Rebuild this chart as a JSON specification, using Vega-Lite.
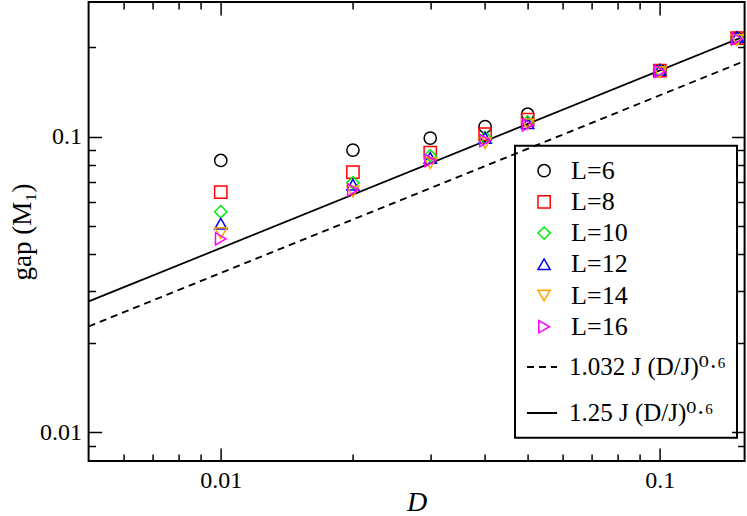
{
  "$schema": "https://vega.github.io/schema/vega-lite/v6.json",
  "width": 656,
  "height": 459,
  "autosize": {"type": "none"},
  "padding": {"left": 88.6, "top": 2, "right": 2.4, "bottom": 55},
  "background": "white",
  "config": {
    "font": "Liberation Serif",
    "view": {"stroke": "black", "strokeWidth": 2},
    "axis": {
      "domain": false,
      "grid": false,
      "labelFont": "Liberation Serif",
      "labelFontSize": 24,
      "labelColor": "black",
      "tickColor": "black",
      "tickWidth": 1.5,
      "titleFont": "Liberation Serif",
      "titleColor": "black",
      "titleFontWeight": "normal"
    },
    "legend": {
      "labelFont": "'Liberation Serif', 'DejaVu Serif', serif",
      "labelColor": "black",
      "labelFontSize": 26,
      "labelLimit": 400,
      "strokeWidth": 2
    }
  },
  "datasets": {
    "points": [
      {"D": 0.01, "gap": 0.083, "L": "L=6"},
      {"D": 0.02, "gap": 0.090, "L": "L=6"},
      {"D": 0.03, "gap": 0.0988, "L": "L=6"},
      {"D": 0.04, "gap": 0.108, "L": "L=6"},
      {"D": 0.05, "gap": 0.119, "L": "L=6"},
      {"D": 0.1, "gap": 0.167, "L": "L=6"},
      {"D": 0.15, "gap": 0.215, "L": "L=6"},
      {"D": 0.01, "gap": 0.0649, "L": "L=8"},
      {"D": 0.02, "gap": 0.0758, "L": "L=8"},
      {"D": 0.03, "gap": 0.0883, "L": "L=8"},
      {"D": 0.04, "gap": 0.1019, "L": "L=8"},
      {"D": 0.05, "gap": 0.114, "L": "L=8"},
      {"D": 0.1, "gap": 0.167, "L": "L=8"},
      {"D": 0.15, "gap": 0.215, "L": "L=8"},
      {"D": 0.01, "gap": 0.0557, "L": "L=10"},
      {"D": 0.02, "gap": 0.0698, "L": "L=10"},
      {"D": 0.03, "gap": 0.0861, "L": "L=10"},
      {"D": 0.04, "gap": 0.0992, "L": "L=10"},
      {"D": 0.05, "gap": 0.112, "L": "L=10"},
      {"D": 0.1, "gap": 0.167, "L": "L=10"},
      {"D": 0.15, "gap": 0.214, "L": "L=10"},
      {"D": 0.01, "gap": 0.0507, "L": "L=12"},
      {"D": 0.02, "gap": 0.0687, "L": "L=12"},
      {"D": 0.03, "gap": 0.0847, "L": "L=12"},
      {"D": 0.04, "gap": 0.099, "L": "L=12"},
      {"D": 0.05, "gap": 0.111, "L": "L=12"},
      {"D": 0.1, "gap": 0.168, "L": "L=12"},
      {"D": 0.15, "gap": 0.217, "L": "L=12"},
      {"D": 0.01, "gap": 0.0472, "L": "L=14"},
      {"D": 0.02, "gap": 0.0652, "L": "L=14"},
      {"D": 0.03, "gap": 0.0813, "L": "L=14"},
      {"D": 0.04, "gap": 0.095, "L": "L=14"},
      {"D": 0.05, "gap": 0.110, "L": "L=14"},
      {"D": 0.1, "gap": 0.165, "L": "L=14"},
      {"D": 0.15, "gap": 0.212, "L": "L=14"},
      {"D": 0.01, "gap": 0.0451, "L": "L=16"},
      {"D": 0.02, "gap": 0.066, "L": "L=16"},
      {"D": 0.03, "gap": 0.083, "L": "L=16"},
      {"D": 0.04, "gap": 0.097, "L": "L=16"},
      {"D": 0.05, "gap": 0.1095, "L": "L=16"},
      {"D": 0.1, "gap": 0.166, "L": "L=16"},
      {"D": 0.15, "gap": 0.214, "L": "L=16"}
    ],
    "fits": [
      {"D": 0.005, "gap": 0.0228, "fit": "1.032 J (D/J)⁰·⁶"},
      {"D": 0.156, "gap": 0.1800, "fit": "1.032 J (D/J)⁰·⁶"},
      {"D": 0.005, "gap": 0.0277, "fit": "1.25 J (D/J)⁰·⁶"},
      {"D": 0.156, "gap": 0.2184, "fit": "1.25 J (D/J)⁰·⁶"}
    ]
  },
  "layer": [
    {
      "data": {"name": "fits"},
      "mark": {"type": "line", "color": "black", "strokeWidth": 1.8},
      "encoding": {
        "x": {
          "field": "D", "type": "quantitative",
          "scale": {"type": "log", "domain": [0.005, 0.156], "nice": false},
          "axis": {
            "orient": "bottom",
            "title": "D",
            "titleFontStyle": "italic",
            "titleFontSize": 28,
            "titleX": 328,
            "titleY": 49,
            "titleBaseline": "alphabetic",
            "values": [0.006, 0.007, 0.008, 0.009, 0.01, 0.02, 0.03, 0.04, 0.05, 0.06, 0.07, 0.08, 0.09, 0.1],
            "labelExpr": "datum.value === 0.01 ? '0.01' : datum.value === 0.1 ? '0.1' : ''",
            "tickSize": {"condition": {"test": "datum.value === 0.01 || datum.value === 0.1", "value": -13}, "value": -7},
            "labelPadding": 20,
            "labelFlush": false,
            "labelOverlap": false
          }
        },
        "y": {
          "field": "gap", "type": "quantitative",
          "scale": {"type": "log", "domain": [0.008, 0.285], "nice": false},
          "axis": {
            "orient": "left",
            "title": "gap (M₁)",
            "titleFontSize": 27,
            "titleX": -66.6,
            "titleY": 229.5,
            "titleBaseline": "middle",
            "titleAngle": -90,
            "values": [0.009, 0.01, 0.02, 0.03, 0.04, 0.05, 0.06, 0.07, 0.08, 0.09, 0.1, 0.2],
            "labelExpr": "datum.value === 0.01 ? '0.01' : datum.value === 0.1 ? '0.1' : ''",
            "tickSize": {"condition": {"test": "datum.value === 0.01 || datum.value === 0.1", "value": -13}, "value": -7},
            "labelPadding": 20,
            "labelFlush": false,
            "labelOverlap": false
          }
        },
        "strokeDash": {
          "field": "fit", "type": "nominal",
          "scale": {"domain": ["1.032 J (D/J)⁰·⁶", "1.25 J (D/J)⁰·⁶"], "range": [[7, 5], [1, 0]]},
          "legend": {
            "orient": "none",
            "legendX": 426.4,
            "legendY": 143.7,
            "title": " ",
            "titleFontSize": 1,
            "titlePadding": 193.3,
            "padding": 11,
            "strokeColor": "black",
            "symbolType": "stroke",
            "symbolSize": 900,
            "symbolStrokeWidth": 1.8,
            "symbolStrokeColor": "black",
            "labelFontSize": 25,
            "labelOffset": 11,
            "rowPadding": 17
          }
        }
      }
    },
    {
      "data": {"name": "points"},
      "mark": {"type": "point", "filled": false, "strokeWidth": 1.5, "size": 150, "opacity": 1},
      "encoding": {
        "x": {
          "field": "D", "type": "quantitative",
          "scale": {"type": "log", "domain": [0.005, 0.156], "nice": false},
          "axis": {
            "orient": "top",
            "title": null,
            "labels": false,
            "values": [0.006, 0.007, 0.008, 0.009, 0.01, 0.02, 0.03, 0.04, 0.05, 0.06, 0.07, 0.08, 0.09, 0.1],
            "tickSize": {"condition": {"test": "datum.value === 0.01 || datum.value === 0.1", "value": -13}, "value": -7}
          }
        },
        "y": {
          "field": "gap", "type": "quantitative",
          "scale": {"type": "log", "domain": [0.008, 0.285], "nice": false},
          "axis": {
            "orient": "right",
            "title": null,
            "labels": false,
            "values": [0.009, 0.01, 0.02, 0.03, 0.04, 0.05, 0.06, 0.07, 0.08, 0.09, 0.1, 0.2],
            "tickSize": {"condition": {"test": "datum.value === 0.01 || datum.value === 0.1", "value": -13}, "value": -7}
          }
        },
        "color": {
          "field": "L", "type": "nominal",
          "scale": {"domain": ["L=6", "L=8", "L=10", "L=12", "L=14", "L=16"], "range": ["#000000", "#ff0000", "#00ee00", "#0000ff", "#ffa500", "#ff00ff"]},
          "legend": {
            "orient": "none",
            "legendX": 442.5,
            "legendY": 155.7,
            "title": null,
            "padding": 0,
            "symbolSize": 150,
            "symbolStrokeWidth": 1.5,
            "labelOffset": 14,
            "rowPadding": 5.2
          }
        },
        "shape": {
          "field": "L", "type": "nominal",
          "scale": {"domain": ["L=6", "L=8", "L=10", "L=12", "L=14", "L=16"], "range": ["circle", "square", "diamond", "triangle-up", "triangle-down", "triangle-right"]},
          "legend": {
            "orient": "none",
            "legendX": 442.5,
            "legendY": 155.7,
            "title": null,
            "padding": 0,
            "symbolSize": 150,
            "symbolStrokeWidth": 1.5,
            "labelOffset": 14,
            "rowPadding": 5.2
          }
        }
      }
    }
  ],
  "resolve": {"axis": {"x": "independent", "y": "independent"}}
}
